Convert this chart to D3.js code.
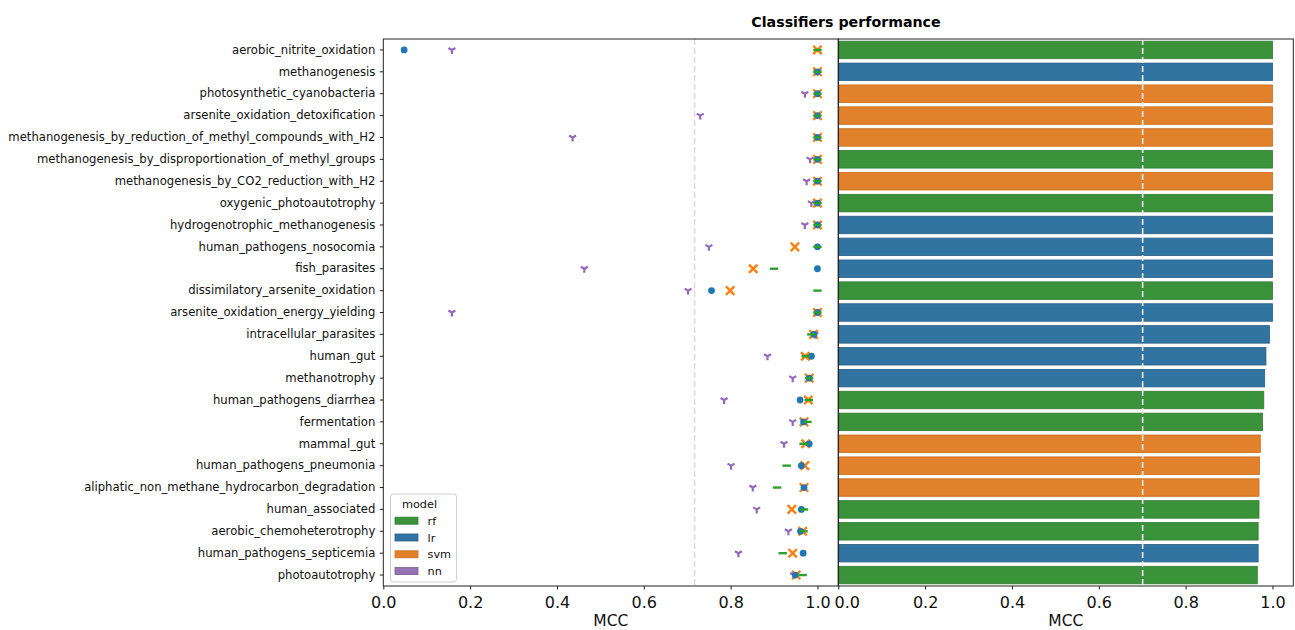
<!DOCTYPE html>
<html>
<head>
<meta charset="utf-8">
<script src="https://cdn.jsdelivr.net/npm/d3@7/dist/d3.min.js"></script>
<style>
  html, body { margin: 0; padding: 0; background: #fff; }
  svg { display: block; font-family: "DejaVu Sans", sans-serif; }
</style>
</head>
<body>
<svg id="chart" width="1295" height="630"></svg>
<script>
const categories = [
  "aerobic_nitrite_oxidation",
  "methanogenesis",
  "photosynthetic_cyanobacteria",
  "arsenite_oxidation_detoxification",
  "methanogenesis_by_reduction_of_methyl_compounds_with_H2",
  "methanogenesis_by_disproportionation_of_methyl_groups",
  "methanogenesis_by_CO2_reduction_with_H2",
  "oxygenic_photoautotrophy",
  "hydrogenotrophic_methanogenesis",
  "human_pathogens_nosocomia",
  "fish_parasites",
  "dissimilatory_arsenite_oxidation",
  "arsenite_oxidation_energy_yielding",
  "intracellular_parasites",
  "human_gut",
  "methanotrophy",
  "human_pathogens_diarrhea",
  "fermentation",
  "mammal_gut",
  "human_pathogens_pneumonia",
  "aliphatic_non_methane_hydrocarbon_degradation",
  "human_associated",
  "aerobic_chemoheterotrophy",
  "human_pathogens_septicemia",
  "photoautotrophy"
];

const models = ["rf", "lr", "svm", "nn"];

// per-model MCC values (left panel)
const rfValues  = [1.0, 1.0, 1.0, 1.0, 1.0, 1.0, 1.0, 1.0, 1.0, 1.0, 0.900, 1.0, 1.0, 0.986, 0.973, 0.981, 0.980, 0.977, 0.968, 0.929, 0.907, 0.969, 0.968, 0.920, 0.966];
const lrValues  = [0.048, 1.0, 1.0, 1.0, 1.0, 1.0, 1.0, 1.0, 1.0, 1.0, 1.0, 0.756, 1.0, 0.992, 0.986, 0.981, 0.960, 0.968, 0.981, 0.963, 0.969, 0.963, 0.961, 0.967, 0.949];
const svmValues = [1.0, 1.0, 1.0, 1.0, 1.0, 1.0, 1.0, 1.0, 1.0, 0.948, 0.852, 0.799, 1.0, 0.991, 0.972, 0.981, 0.979, 0.969, 0.973, 0.971, 0.969, 0.941, 0.966, 0.943, 0.951];
const nnValues  = [0.158, 1.0, 0.971, 0.730, 0.436, 0.983, 0.975, 0.986, 0.971, 0.750, 0.463, 0.702, 0.158, 0.994, 0.885, 0.943, 0.785, 0.943, 0.923, 0.801, 0.851, 0.860, 0.933, 0.818, 0.945];

// best model per category (right panel)
const bestModel = ["rf", "lr", "svm", "svm", "svm", "rf", "svm", "rf", "lr", "lr", "lr", "rf", "lr", "lr", "lr", "lr", "rf", "rf", "svm", "svm", "svm", "rf", "rf", "lr", "rf"];
const bestValue = [1.0, 1.0, 1.0, 1.0, 1.0, 1.0, 1.0, 1.0, 1.0, 1.0, 1.0, 1.0, 1.0, 0.993, 0.985, 0.982, 0.980, 0.977, 0.972, 0.970, 0.969, 0.969, 0.967, 0.967, 0.965];

const xTicks = [0.0, 0.2, 0.4, 0.6, 0.8, 1.0];
const leftRefLine = 0.717;
const rightRefLine = 0.701;

const pointColor = { rf: "#2ca02c", lr: "#1f77b4", svm: "#ff7f0e", nn: "#9467bd" };
const barColor = { rf: "#3a923a", lr: "#3274a1", svm: "#e1812c", nn: "#9372b2" };
const barEdge = { rf: "#2f7a2f", lr: "#285d86", svm: "#c86c1c", nn: "#7a5c97" };

const svg = d3.select("#chart");
const plotTop = 39, plotBottom = 586;
const leftX0 = 383.3, leftX1 = 838.3, rightX0 = 838.3, rightX1 = 1293.3;

const y = d3.scaleBand().domain(categories).range([plotTop, plotBottom]).paddingInner(0).paddingOuter(0);
const yc = c => y(c) + y.bandwidth() / 2;

const xL = d3.scaleLinear().domain([0, 1.048]).range([leftX0, leftX1]);
const xR = d3.scaleLinear().domain([0, 1.048]).range([rightX0, rightX1]);

// ---------- Left panel ----------
const gL = svg.append("g");
gL.append("line")
  .attr("x1", xL(leftRefLine)).attr("x2", xL(leftRefLine))
  .attr("y1", plotTop).attr("y2", plotBottom)
  .attr("stroke", "#dcdcdc").attr("stroke-width", 1.6)
  .attr("stroke-dasharray", "6,3");

const valuesByModel = { rf: rfValues, lr: lrValues, svm: svmValues, nn: nnValues };
const drawOrder = ["nn", "svm", "lr", "rf"];

drawOrder.forEach(m => {
  const vals = valuesByModel[m];
  const g = gL.append("g");
  categories.forEach((c, i) => {
    const cx = xL(vals[i]), cy = yc(c);
    const col = pointColor[m];
    if (m === "lr") {
      g.append("circle").attr("cx", cx).attr("cy", cy).attr("r", 3.4).attr("fill", col);
    } else if (m === "svm") {
      const s = 4.2;
      g.append("path")
        .attr("d", `M${cx - s},${cy - s}L${cx + s},${cy + s}M${cx - s},${cy + s}L${cx + s},${cy - s}`)
        .attr("stroke", col).attr("stroke-width", 2.4).attr("fill", "none");
    } else if (m === "rf") {
      g.append("line").attr("x1", cx - 4.2).attr("x2", cx + 4.2).attr("y1", cy).attr("y2", cy)
        .attr("stroke", col).attr("stroke-width", 2.4);
    } else if (m === "nn") {
      const s = 4;
      g.append("path")
        .attr("d", `M${cx},${cy}L${cx},${cy + s}M${cx},${cy}L${cx - s * 0.87},${cy - s * 0.5}M${cx},${cy}L${cx + s * 0.87},${cy - s * 0.5}`)
        .attr("stroke", col).attr("stroke-width", 2.2).attr("fill", "none");
    }
  });
});

// left axes
const axL = d3.axisBottom(xL).tickValues(xTicks).tickFormat(d3.format(".1f")).tickSize(3.5).tickSizeOuter(0);
const gxL = svg.append("g").attr("transform", `translate(0,${plotBottom})`).call(axL);
const ayL = d3.axisLeft(y).tickSize(3.5).tickSizeOuter(0);
const gyL = svg.append("g").attr("transform", `translate(${leftX0},0)`).call(ayL);

// ---------- Right panel ----------
const gR = svg.append("g");
gR.selectAll("rect").data(categories).enter().append("rect")
  .attr("x", xR(0) + 0.5)
  .attr("y", c => y(c) + y.bandwidth() * 0.1)
  .attr("width", (c, i) => xR(bestValue[i]) - xR(0) - 0.5)
  .attr("height", y.bandwidth() * 0.8)
  .attr("fill", (c, i) => barColor[bestModel[i]])
  .attr("stroke", (c, i) => barEdge[bestModel[i]])
  .attr("stroke-width", 0.8);

gR.append("line")
  .attr("x1", xR(rightRefLine)).attr("x2", xR(rightRefLine))
  .attr("y1", plotTop).attr("y2", plotBottom)
  .attr("stroke", "#ececec").attr("stroke-width", 1.6)
  .attr("stroke-dasharray", "6,3");

const axR = d3.axisBottom(xR).tickValues(xTicks).tickFormat(d3.format(".1f")).tickSize(3.5).tickSizeOuter(0);
const gxR = svg.append("g").attr("transform", `translate(0,${plotBottom})`).call(axR);

// frames
svg.append("rect").attr("x", leftX0).attr("y", plotTop).attr("width", leftX1 - leftX0).attr("height", plotBottom - plotTop)
  .attr("fill", "none").attr("stroke", "#222").attr("stroke-width", 1);
svg.append("rect").attr("x", rightX0).attr("y", plotTop).attr("width", rightX1 - rightX0).attr("height", plotBottom - plotTop)
  .attr("fill", "none").attr("stroke", "#222").attr("stroke-width", 1);

// axis styling
[gxL, gxR].forEach(g => {
  g.select(".domain").remove();
  g.selectAll(".tick line").attr("stroke", "#222");
  g.selectAll(".tick text").attr("font-size", 16).attr("fill", "#111").attr("dy", "0.95em")
    .attr("font-family", "DejaVu Sans");
});
// the right panel's first label sits slightly to the right in the reference
gxR.selectAll(".tick text").filter(d => d === 0).attr("x", 8.5);

gyL.select(".domain").remove();
gyL.selectAll(".tick line").attr("stroke", "#222");
gyL.selectAll(".tick text").attr("font-size", 11.65).attr("fill", "#111").attr("x", -8)
  .attr("font-family", "DejaVu Sans");

// axis labels
svg.append("text").attr("x", (leftX0 + leftX1) / 2).attr("y", 626).attr("text-anchor", "middle")
  .attr("font-size", 15.5).attr("fill", "#111").text("MCC");
svg.append("text").attr("x", (rightX0 + rightX1) / 2).attr("y", 626).attr("text-anchor", "middle")
  .attr("font-size", 15.5).attr("fill", "#111").text("MCC");

// title
svg.append("text").attr("x", 846).attr("y", 27).attr("text-anchor", "middle")
  .attr("font-size", 14.2).attr("font-weight", "bold").attr("fill", "#000").text("Classifiers performance");

// legend
const lg = svg.append("g");
lg.append("rect").attr("x", 390.5).attr("y", 494).attr("width", 66).attr("height", 88).attr("rx", 3)
  .attr("fill", "#fff").attr("fill-opacity", 0.8).attr("stroke", "#d0d0d0").attr("stroke-width", 1);
lg.append("text").attr("x", 419.5).attr("y", 508).attr("text-anchor", "middle")
  .attr("font-size", 11.3).attr("fill", "#111").text("model");
models.forEach((m, i) => {
  const cy = 520.7 + i * 16.8;
  lg.append("rect").attr("x", 395).attr("y", cy - 3.5).attr("width", 23).attr("height", 7)
    .attr("fill", barColor[m]).attr("stroke", barEdge[m]).attr("stroke-width", 0.8);
  lg.append("text").attr("x", 427.5).attr("y", cy + 4).attr("font-size", 11.3).attr("fill", "#111").text(m);
});
</script>
</body>
</html>
